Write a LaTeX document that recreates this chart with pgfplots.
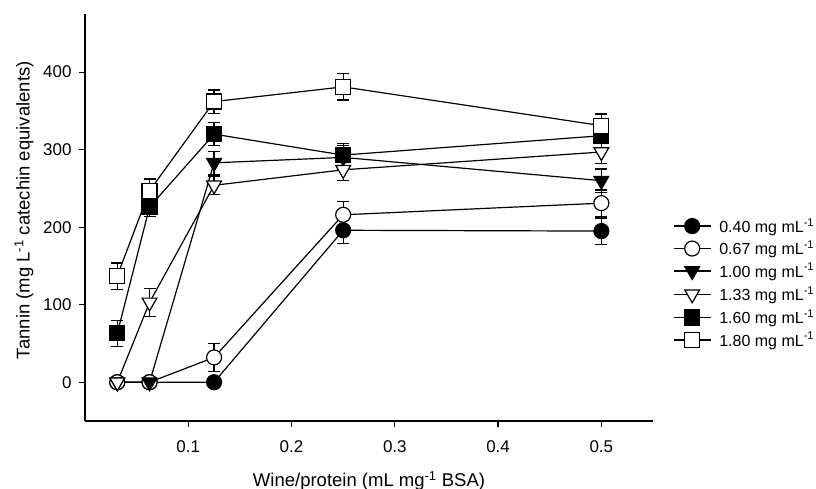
\documentclass[border=0pt]{standalone}
\usepackage{fontspec}
\setmainfont{Liberation Sans}
\usepackage{pgfplots}
\usepackage{pgfplotstable}
\pgfplotsset{compat=1.18}

% x = wine/protein ratio; value and error for each concentration
\pgfplotstableread{
x       a   ea  b   eb  c   ec  d   ed  e   ee  f   ef
0.03125 0   0   0   0   0   0   0   0   63  17  137 17
0.0625  0   0   0   0   0   0   103 18  226 12  247 15
0.125   0   0   32  18  283 15  254 12  320 15  362 15
0.25    196 17  216 17  290 15  274 14  293 15  381 17
0.5     195 17  231 17  260 15  297 15  318 15  331 15
}\tannin

\pgfplotsset{
  ser/.style={black, line width=1.2pt, mark size=7.5pt,
    error bars/y dir=both, error bars/y explicit,
    error bars/error mark=|,
    error bars/error bar style={line width=1.2pt},
    error bars/error mark options={black, mark size=6pt, line width=1.4pt}},
}

\begin{document}
\begin{tikzpicture}
\path[use as bounding box] (-85pt,-68pt) rectangle (731pt,421pt);
\begin{axis}[
  scale only axis, width=568pt, height=407pt,
  xmin=0, xmax=0.55, ymin=-50, ymax=475,
  axis x line*=bottom, axis y line*=left,
  axis line style={-, line width=1.3pt},
  xtick={0.1,0.2,0.3,0.4,0.5},
  ytick={0,100,200,300,400},
  tick align=outside, major tick length=6pt,
  tick style={black, line width=1.2pt},
  tick label style={font=\fontsize{17}{20}\selectfont},
  /pgf/number format/assume math mode=true,
  xticklabel style={/pgf/number format/fixed, yshift=-10pt},
  yticklabel style={xshift=-4pt},
  every axis x label/.style={at={(axis description cs:0.5,-0.1474)}, anchor=center},
  every axis y label/.style={at={(axis description cs:-0.1074,0.518)}, anchor=center, rotate=90},
  label style={font=\fontsize{18.5}{22}\selectfont},
  xlabel={Wine/protein (mL mg\textsuperscript{-1} BSA)},
  ylabel={Tannin (mg L\textsuperscript{-1} catechin equivalents)},
  clip=false,
  legend cell align=left,
  legend image code/.code={\draw[mark repeat=2,mark phase=2,#1] plot coordinates {(0pt,0pt) (18.5pt,0pt) (37pt,0pt)};},
  legend style={at={(1.035,0.339)}, anchor=west, draw=none, fill=none,
    inner sep=0pt, row sep=7pt,
    font=\fontsize{16}{19}\selectfont,
    nodes={inner sep=0pt, anchor=west},
    /tikz/every odd column/.style={column sep=8pt}},
]
\addplot[ser, mark=*, mark options={fill=black}] table[x=x, y=a, y error=ea] {\tannin};
\addlegendentry{0.40 mg mL\textsuperscript{-1}}
\addplot[ser, mark=*, mark options={fill=white}] table[x=x, y=b, y error=eb] {\tannin};
\addlegendentry{0.67 mg mL\textsuperscript{-1}}
\addplot[ser, mark=triangle*, mark size=8.5pt, mark options={fill=black, rotate=180}] table[x=x, y=c, y error=ec] {\tannin};
\addlegendentry{1.00 mg mL\textsuperscript{-1}}
\addplot[ser, mark=triangle*, mark size=8.5pt, mark options={fill=white, rotate=180}] table[x=x, y=d, y error=ed] {\tannin};
\addlegendentry{1.33 mg mL\textsuperscript{-1}}
\addplot[ser, mark=square*, mark options={fill=black}] table[x=x, y=e, y error=ee] {\tannin};
\addlegendentry{1.60 mg mL\textsuperscript{-1}}
\addplot[ser, mark=square*, mark options={fill=white}] table[x=x, y=f, y error=ef] {\tannin};
\addlegendentry{1.80 mg mL\textsuperscript{-1}}
\end{axis}
\end{tikzpicture}
\end{document}
